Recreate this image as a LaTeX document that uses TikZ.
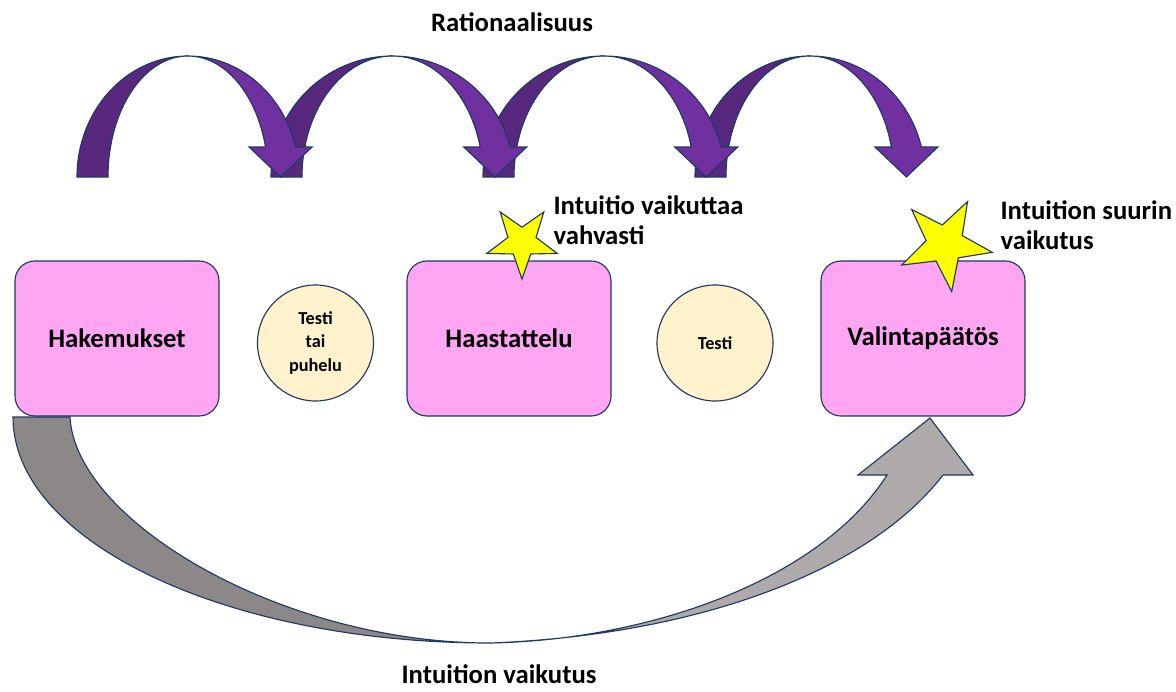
\documentclass[tikz,border=0pt]{standalone}
\usepackage{fontspec}
\setmainfont{Carlito}
\usepackage{tikz}
\usetikzlibrary{shapes.geometric}

\definecolor{reuna}{RGB}{31,56,100}
\definecolor{pinkki}{RGB}{255,166,243}
\definecolor{kerma}{RGB}{255,242,204}
\definecolor{violetti}{RGB}{112,48,160}
\definecolor{tummavio}{RGB}{88,40,126}
\definecolor{harmaa}{RGB}{140,136,136}
\definecolor{vaaleaharmaa}{RGB}{174,170,170}
\definecolor{keltainen}{RGB}{255,255,0}

\begin{document}
\begin{tikzpicture}[x=0.025cm, y=0.025cm, line width=0.8pt,
            vaihe/.style={rectangle,rounded corners=0.5cm,draw=reuna,fill=pinkki,minimum width=5.1cm,minimum height=3.875cm,font=\fontsize{19}{21.5}\selectfont\bfseries},
            testi/.style={circle,draw=reuna,fill=kerma,minimum size=2.9cm,inner sep=0pt,align=center,font=\fontsize{13}{16.6}\selectfont\bfseries},
            tahti/.style={star,star points=5,star point ratio=2.5,draw=reuna,fill=keltainen,inner sep=0pt},
            teksti/.style={font=\fontsize{19}{21.5}\selectfont\bfseries,inner sep=0pt},
            taka/.style={fill=tummavio,draw=reuna},
            etu/.style={fill=violetti,draw=reuna}
        ]
            \useasboundingbox (0,0) rectangle (1176,-691);

            % Rationaalisuus arrows
            \foreach \L/\a in {695/115, 483/121, 271/121.5, 77/111} {
                \pgfmathsetmacro{\kx}{\L+\a}
                \pgfmathsetmacro{\ai}{\a-31}
                \pgfmathsetmacro{\hx}{\kx+(\a-15.5)*0.969}
                \pgfmathsetmacro{\sx}{\kx+\ai*0.969}
                \filldraw[taka] (\L,-177) arc[start angle=180,end angle=90,x radius=\a,y radius=121]
                    arc[start angle=90,end angle=180,x radius=\ai,y radius=121] -- cycle;
                \filldraw[etu] (\kx,-56) arc[start angle=90,end angle=14.36,x radius=\a,y radius=121]
                    -- (\hx+31.5,-147) -- (\hx,-177) -- (\hx-31.5,-147) -- (\sx,-147)
                    arc[start angle=14.36,end angle=90,x radius=\ai,y radius=121] -- cycle;
            }

            % Phases
            \node[vaihe] (hakemukset) at (117,-338.5) {Hakemukset};
            \node[testi] (testi1) at (315.5,-343) {Testi\\tai\\puhelu};
            \node[vaihe] (haastattelu) at (509,-338.5) {Haastattelu};
            \node[testi] (testi2) at (715,-343) {Testi};
            \node[vaihe] (valinta) at (923,-338.5) {Valintapäätös};

            % Stars
            \node[tahti,minimum size=1.85cm,shape border rotate=36] (tahti1) at (522,-242) {};
            \node[tahti,minimum size=2.4cm,shape border rotate=-28] (tahti2) at (945,-244) {};

            % Texts
            \node[teksti] (rationaalisuus) at (512,-22) {Rationaalisuus};
            \node[teksti,anchor=west,align=left] (huom1) at (553,-220) {Intuitio vaikuttaa\\vahvasti};
            \node[teksti,anchor=west,align=left] (huom2) at (1000,-225) {Intuition suurin\\vaikutus};
            \node[teksti] (intuitio) at (499,-674) {Intuition vaikutus};

            % Intuition arrow
            \filldraw[fill=harmaa,draw=reuna] (13,-417) arc[start angle=180,end angle=270,x radius=477,y radius=226]
                .. controls (280,-643) and (75,-520) .. (70,-417) -- cycle;
            \filldraw[fill=vaaleaharmaa,draw=reuna] (490,-643) .. controls (700,-635) and (870,-570) .. (943,-475)
                -- (973,-475) -- (930,-418) -- (858,-475) -- (887,-475)
                .. controls (820,-580) and (650,-640) .. (490,-643) -- cycle;
        \end{tikzpicture}
\end{document}
